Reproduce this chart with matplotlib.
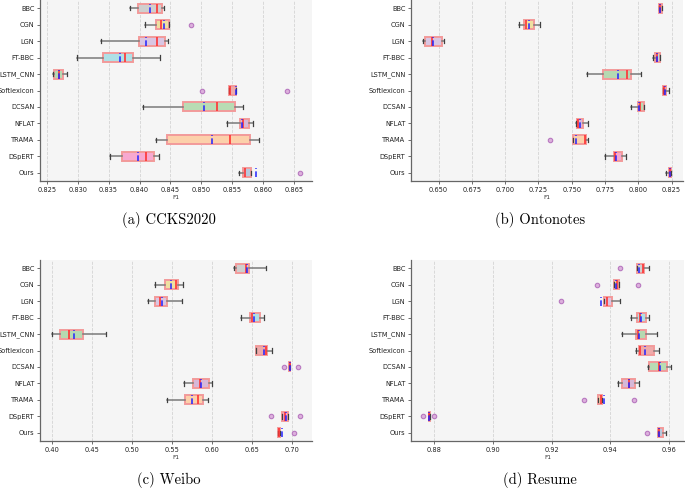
import matplotlib
matplotlib.use("Agg")
import matplotlib.pyplot as plt
import numpy as np

categories = ["BBC", "CGN", "LGN", "FT-BBC", "LSTM_CNN", "Softlexicon", "DCSAN",
              "NFLAT", "TRAMA", "DSpERT", "Ours"]
box_colors = ["#cfcfcf", "#efe0a0", "#d9c6e3", "#aee0e6", "#b5d9b1", "#eeaaaa",
              "#b8dcb4", "#d7b8d8", "#fcd0aa", "#f7a8d0", "#b8c8dc"]

# (a) CCKS2020
ccks_wlo = [0.8384, 0.8409, 0.8338, 0.8299, 0.8260, 0.8544, 0.8405, 0.8542, 0.8426, 0.8353, 0.8561]
ccks_q1 = [0.8397, 0.8426, 0.8399, 0.8341, 0.8262, 0.8544, 0.8470, 0.8562, 0.8444, 0.8372, 0.8568]
ccks_med = [0.8428, 0.8434, 0.8428, 0.8376, 0.8269, 0.8546, 0.8525, 0.8567, 0.8547, 0.8410, 0.8570]
ccks_mean = [0.8417, 0.8440, 0.8410, 0.8368, 0.8269, 0.8556, 0.8505, 0.8566, 0.8518, 0.8398, 0.8588]
ccks_q3 = [0.8436, 0.8447, 0.8442, 0.8390, 0.8276, 0.8556, 0.8555, 0.8577, 0.8579, 0.8424, 0.8580]
ccks_whi = [0.8440, 0.8447, 0.8446, 0.8433, 0.8282, 0.8556, 0.8568, 0.8583, 0.8593, 0.8432, 0.8580]
ccks_fliers = [[], [0.8484], [], [], [], [0.8501, 0.8638], [], [], [], [], [0.8659]]

# (b) Ontonotes
onto_wlo = [0.8153, 0.7105, 0.6385, 0.8113, 0.7615, 0.8183, 0.7948, 0.7528, 0.7510, 0.7750, 0.8210]
onto_q1 = [0.8155, 0.7140, 0.6400, 0.8123, 0.7738, 0.8183, 0.8000, 0.7540, 0.7510, 0.7818, 0.8230]
onto_med = [0.8163, 0.7153, 0.6450, 0.8138, 0.7913, 0.8193, 0.8010, 0.7548, 0.7598, 0.7828, 0.8238]
onto_mean = [0.8163, 0.7180, 0.6460, 0.8138, 0.7848, 0.8197, 0.8008, 0.7560, 0.7535, 0.7830, 0.8240]
onto_q3 = [0.8175, 0.7220, 0.6523, 0.8160, 0.7948, 0.8205, 0.8043, 0.7583, 0.7605, 0.7880, 0.8248]
onto_whi = [0.8180, 0.7265, 0.6538, 0.8163, 0.8023, 0.8230, 0.8043, 0.7623, 0.7623, 0.7910, 0.8248]
onto_fliers = [[], [], [], [], [], [], [], [], [0.7340], [], []]

# (c) Weibo
weibo_wlo = [0.6274, 0.5282, 0.5191, 0.6361, 0.4000, 0.6543, 0.6958, 0.5651, 0.5427, 0.6867, 0.6825]
weibo_q1 = [0.6294, 0.5407, 0.5278, 0.6469, 0.4091, 0.6543, 0.6958, 0.5763, 0.5655, 0.6867, 0.6825]
weibo_med = [0.6423, 0.5543, 0.5348, 0.6498, 0.4207, 0.6676, 0.6967, 0.5850, 0.5821, 0.6913, 0.6834]
weibo_mean = [0.6431, 0.5489, 0.5373, 0.6514, 0.4270, 0.6639, 0.6967, 0.5853, 0.5751, 0.6917, 0.6867]
weibo_q3 = [0.6460, 0.5573, 0.5431, 0.6601, 0.4378, 0.6684, 0.6975, 0.5958, 0.5879, 0.6942, 0.6846]
weibo_whi = [0.6664, 0.5639, 0.5618, 0.6647, 0.4672, 0.6751, 0.6975, 0.6000, 0.5950, 0.6942, 0.6846]
weibo_fliers = [[], [], [], [], [], [], [0.6900, 0.7066], [], [], [0.6738, 0.7095], [0.7016]]

# (d) Resume
resume_wlo = [0.9492, 0.9411, 0.9379, 0.9469, 0.9441, 0.9486, 0.9529, 0.9425, 0.9357, 0.8780, 0.9564]
resume_q1 = [0.9492, 0.9411, 0.9379, 0.9492, 0.9488, 0.9496, 0.9530, 0.9441, 0.9357, 0.8780, 0.9564]
resume_med = [0.9510, 0.9422, 0.9387, 0.9500, 0.9493, 0.9500, 0.9566, 0.9462, 0.9369, 0.8782, 0.9567]
resume_mean = [0.9497, 0.9420, 0.9368, 0.9506, 0.9498, 0.9518, 0.9568, 0.9462, 0.9379, 0.8783, 0.9567]
resume_q3 = [0.9516, 0.9431, 0.9406, 0.9520, 0.9520, 0.9550, 0.9594, 0.9484, 0.9373, 0.8785, 0.9581]
resume_whi = [0.9533, 0.9431, 0.9432, 0.9533, 0.9560, 0.9567, 0.9607, 0.9496, 0.9373, 0.8785, 0.9588]
resume_fliers = [[0.9432], [0.9354, 0.9493], [0.9232], [], [], [], [], [], [0.9311, 0.9482],
                 [0.8761, 0.8799], [0.9524]]

panels = [
    dict(stats=(ccks_wlo, ccks_q1, ccks_med, ccks_mean, ccks_q3, ccks_whi, ccks_fliers),
         xlim=(0.8239, 0.8679), ticks=np.arange(0.825, 0.8651, 0.005), fmt="{:.3f}",
         caption="(a) CCKS2020", rect=[40, 0, 312, 181], cap=(169, 220)),
    dict(stats=(onto_wlo, onto_q1, onto_med, onto_mean, onto_q3, onto_whi, onto_fliers),
         xlim=(0.6293, 0.8335), ticks=np.arange(0.65, 0.8251, 0.025), fmt="{:.3f}",
         caption="(b) Ontonotes", rect=[411, 0, 683, 181], cap=(540, 220)),
    dict(stats=(weibo_wlo, weibo_q1, weibo_med, weibo_mean, weibo_q3, weibo_whi, weibo_fliers),
         xlim=(0.3846, 0.7245), ticks=np.arange(0.40, 0.7001, 0.05), fmt="{:.2f}",
         caption="(c) Weibo", rect=[40, 260, 312, 441], cap=(169, 480)),
    dict(stats=(resume_wlo, resume_q1, resume_med, resume_mean, resume_q3, resume_whi, resume_fliers),
         xlim=(0.8720, 0.9651), ticks=np.arange(0.88, 0.9601, 0.02), fmt="{:.2f}",
         caption="(d) Resume", rect=[411, 260, 684, 441], cap=(540, 480)),
]

W, H = 685, 488
fig = plt.figure(figsize=(W / 100, H / 100), dpi=100)

for p in panels:
    x0, y0, x1, y1 = p["rect"]
    ax = fig.add_axes([x0 / W, 1 - y1 / H, (x1 - x0) / W, (y1 - y0) / H])
    ax.set_facecolor("#f5f5f5")
    wlo, q1, med, mean, q3, whi, fl = p["stats"]
    stats = []
    for i, name in enumerate(categories):
        stats.append(dict(label=name, whislo=wlo[i], q1=q1[i], med=med[i], mean=mean[i],
                          q3=q3[i], whishi=whi[i], fliers=fl[i]))
    positions = list(range(len(categories), 0, -1))
    bp = ax.bxp(stats, positions=positions, widths=0.55, orientation="horizontal",
                showmeans=True, meanline=True, patch_artist=True,
                boxprops=dict(edgecolor="#f29a9a", linewidth=1.4),
                medianprops=dict(color="#ff3333", linewidth=1.2),
                meanprops=dict(color="#2222ff", linestyle="--", linewidth=1.1),
                whiskerprops=dict(color="#7a7a7a", linewidth=1.1),
                capprops=dict(color="#404040", linewidth=0.9),
                flierprops=dict(marker="o", markersize=3.2, markerfacecolor="#dcb0dc",
                                markeredgecolor="#b878c0", markeredgewidth=0.8))
    for patch, c in zip(bp["boxes"], box_colors):
        patch.set_facecolor(c)
    ax.set_ylim(0.5, len(categories) + 0.5)
    ax.set_xlim(*p["xlim"])
    ax.set_xticks(p["ticks"])
    ax.set_xticklabels([p["fmt"].format(t) for t in p["ticks"]])
    ax.set_yticks(positions)
    ax.set_yticklabels(categories)
    ax.tick_params(axis="both", labelsize=4.8, length=2.5, width=0.6, color="#555555",
                   pad=1.5, labelcolor="#222222")
    ax.xaxis.grid(True, linestyle="--", color="#d4d4d4", linewidth=0.6)
    ax.set_axisbelow(True)
    for s in ["top", "right"]:
        ax.spines[s].set_visible(False)
    for s in ["left", "bottom"]:
        ax.spines[s].set_color("#666666")
        ax.spines[s].set_linewidth(0.9)
    ax.set_xlabel("F1", fontsize=4.2, labelpad=2, color="#333333")
    cx, cy = p["cap"]
    fig.text(cx / W, 1 - cy / H, p["caption"], ha="center", va="center",
             fontsize=10.5, family="cmr10")

fig.savefig("out.png", dpi=100)
